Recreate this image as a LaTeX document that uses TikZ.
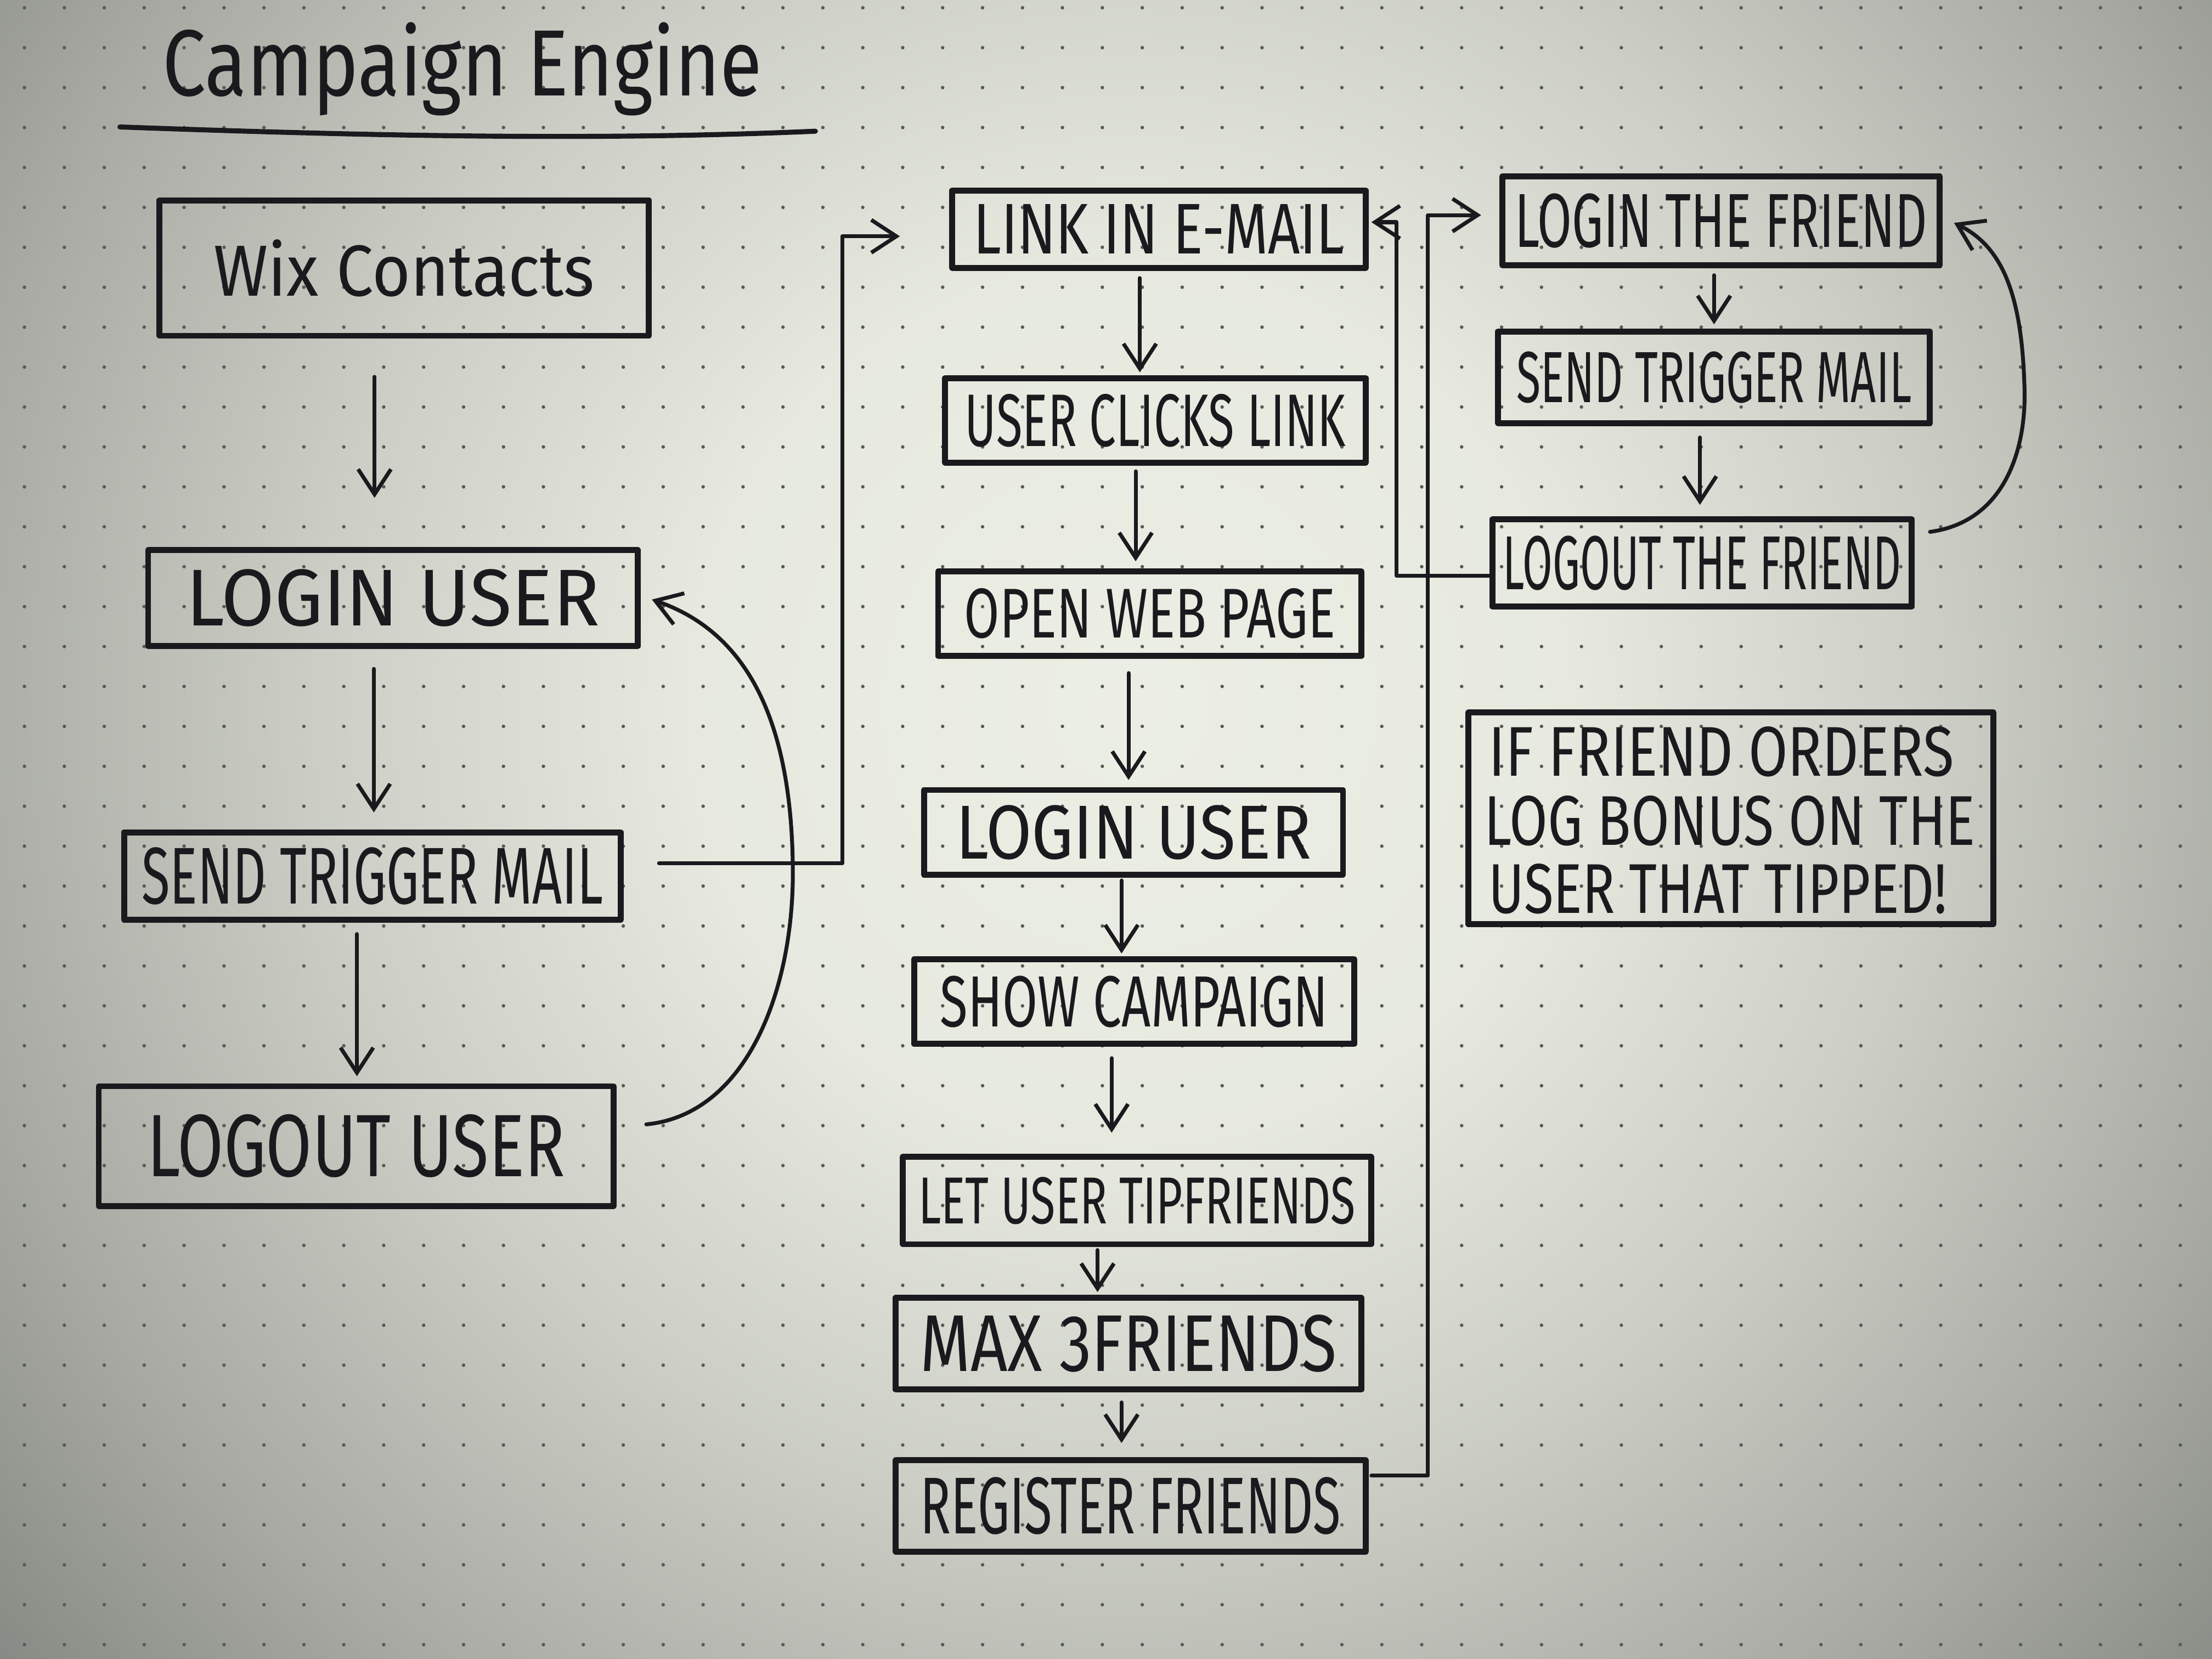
\documentclass[tikz,border=0pt]{standalone}
\usepackage{fontspec}
\setmainfont{Fira Sans}
\usetikzlibrary{arrows.meta,calc}
\newlength\myu
\setlength\myu{0.025714cm}
\newcommand\tw[3]{\resizebox{#1\myu}{#2\myu}{#3}}
\definecolor{ink}{RGB}{26,26,30}
\definecolor{dotc}{RGB}{88,90,86}
\definecolor{paperedge}{rgb}{0.50,0.51,0.49}
\pgfdeclareradialshading{paper}{\pgfpoint{0bp}{0bp}}{rgb(0bp)=(0.925,0.935,0.895); rgb(7bp)=(0.905,0.915,0.875); rgb(13bp)=(0.80,0.81,0.775); rgb(19bp)=(0.66,0.67,0.64); rgb(25bp)=(0.50,0.51,0.49); rgb(50bp)=(0.50,0.51,0.49)}
\begin{document}
\begin{tikzpicture}[x=0.025714cm,y=-0.025714cm,
  box/.style={draw=ink, line width=3.1pt, inner sep=0pt, line join=round, text=ink},
  bx/.style 2 args={minimum width=#1*\myu, minimum height=#2*\myu},
  txt/.style={inner sep=0pt, text=ink},
  conn/.style={draw=ink, line width=2pt, line cap=round, line join=round},
  arr/.style={conn, -{Straight Barb[length=13pt,width=17pt,line width=2pt]}}]
\useasboundingbox (0,0) rectangle (1568,1176);
\begin{scope}
  \clip (0,0) rectangle (1568,1176);
  \fill[paperedge] (0,0) rectangle (1568,1176);
  \shade[shading=paper] (800,500) circle (1100);
  \foreach \i in {0,...,55}{\foreach \j in {0,...,41}{\fill[dotc] ({17.3+\i*28.3},{5.5+\j*28.3}) circle (1.25);}}
\end{scope}

% title
\node[txt, anchor=base west] (title) at (115,68) {\tw{425}{52}{Campaign Engine}};
\coordinate (ulA) at (85,90);
\coordinate (ulB) at (578,93);
\draw[conn, line width=2.6pt] (ulA) .. controls (250,96) and (420,100) .. (ulB);

% left column
\node[box,bx={347}{96}] (wix) at (286.5,190) {\tw{270}{40}{Wix Contacts}};
\node[box,bx={347}{68}] (loginL) at (278.5,424) {\tw{293}{40}{LOGIN USER}};
\node[box,bx={352}{62}] (sendL) at (264,621) {\tw{327}{40}{SEND TRIGGER MAIL}};
\node[box,bx={365}{85}] (logoutL) at (252.5,812.5) {\tw{296}{44}{LOGOUT USER}};

% middle column
\node[box,bx={293}{55}] (linkE) at (821.5,162.5) {\tw{263}{35}{LINK IN E-MAIL}};
\node[box,bx={298}{60}] (clicks) at (819,298) {\tw{270}{37}{USER CLICKS LINK}};
\node[box,bx={300}{60}] (openW) at (815,435) {\tw{263}{35}{OPEN WEB PAGE}};
\node[box,bx={297}{60}] (loginM) at (803.5,590) {\tw{252}{38}{LOGIN USER}};
\node[box,bx={312}{60}] (showC) at (804,710) {\tw{275}{36}{SHOW CAMPAIGN}};
\node[box,bx={332}{62}] (letTip) at (806,851) {\tw{310}{33}{LET USER TIPFRIENDS}};
\node[box,bx={330}{65}] (maxF) at (800,952.5) {\tw{295}{40}{MAX 3FRIENDS}};
\node[box,bx={333}{65}] (regF) at (801.5,1067.5) {\tw{298}{40}{REGISTER FRIENDS}};

% right column
\node[box,bx={310}{63}] (loginF) at (1220,156.5) {\tw{292}{38}{LOGIN THE FRIEND}};
\node[box,bx={306}{65}] (sendF) at (1215,267.5) {\tw{280}{36}{SEND TRIGGER MAIL}};
\node[box,bx={297}{62}] (logoutF) at (1206.5,399) {\tw{282}{38}{LOGOUT THE FRIEND}};

% note
\node[box,bx={372}{150}] (note) at (1227,580) {};
\node[txt, anchor=west] (n1) at (1055,533) {\tw{330}{35}{IF FRIEND ORDERS}};
\node[txt, anchor=west] (n2) at (1052,582) {\tw{348}{35}{LOG BONUS ON THE}};
\node[txt, anchor=west] (n3) at (1055,630) {\tw{325}{35}{USER THAT TIPPED!}};

% left connectors
\draw[arr] ($(wix.south)+(-21,27)$) -- ($(loginL.north)+(-13,-35)$);
\draw[arr] ($(loginL.south)+(-13.5,14)$) -- ($(sendL.north)+(1,-12)$);
\draw[arr] ($(sendL.south)+(-11,8)$) -- ($(logoutL.north)+(0.5,-5)$);
\draw[arr] ($(logoutL.east)+(21,-15.5)$) .. controls (530,790) and (563,700) .. (562,615)
  .. controls (561,520) and (535,450) .. ($(loginL.east)+(8,1)$);
\draw[arr] ($(sendL.east)+(25,-9)$) -- ++(130,0) |- ($(linkE.west)+(-35,5)$);

% middle connectors
\draw[arr] ($(linkE.south)+(-13.5,5)$) -- ($(clicks.north)+(-11,-2)$);
\draw[arr] ($(clicks.south)+(-14,4)$) -- ($(openW.north)+(-10,-5)$);
\draw[arr] ($(openW.south)+(-15,10)$) -- ($(loginM.north)+(-3.5,-5)$);
\draw[arr] ($(loginM.south)+(-8.5,2)$) -- ($(showC.north)+(-9,-2)$);
\draw[arr] ($(showC.south)+(-16,8)$) -- ($(letTip.north)+(-18,-15)$);
\draw[arr] ($(letTip.south)+(-28,2)$) -- ($(maxF.north)+(-22,-2)$);
\draw[arr] ($(maxF.south)+(-5,7)$) -- ($(regF.north)+(-6.5,-10)$);
\draw[arr] ($(regF.east)+(2,-21.5)$) -- ++(40,0) |- ($(loginF.west)+(-13,-4)$);

% right connectors
\draw[arr] ($(loginF.south)+(-5,5)$) -- ($(sendF.north)+(0,-3)$);
\draw[arr] ($(sendF.south)+(-10,8)$) -- ($(logoutF.north)+(-1.5,-8)$);
\draw[arr] ($(logoutF.west)+(0,9)$) -- ++(-66,0) |- ($(linkE.east)+(2,-5)$);
\draw[arr] ($(logoutF.east)+(11,-22)$) .. controls (1420,370) and (1437,320) .. (1435,273)
  .. controls (1433,210) and (1420,175) .. ($(loginF.east)+(8,1.5)$);
\end{tikzpicture}
\end{document}
